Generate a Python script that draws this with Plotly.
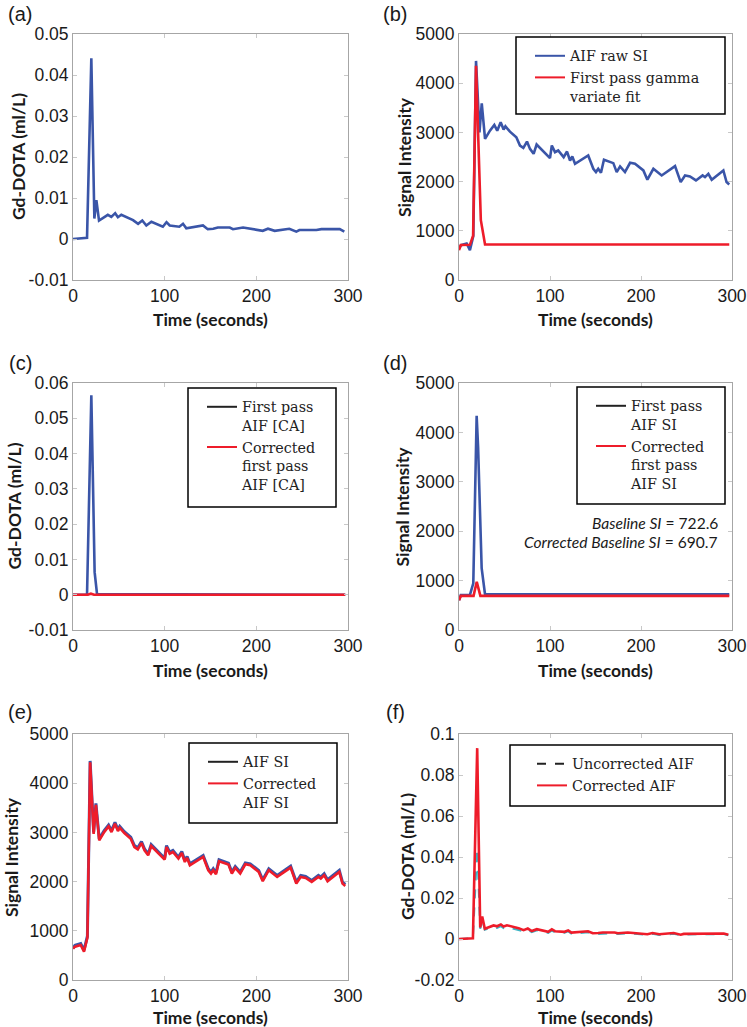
import plotly.graph_objects as go

W, H = 747, 1027

# ---------------- data ----------------
# (b)/(e) raw AIF signal intensity
t_si = [0, 2.2, 8.4, 12, 15.7, 18.7, 22.5, 25, 28.6, 34, 38.8, 42, 45.8, 49, 51, 56, 63, 67, 70.7,
        74.7, 78, 82, 85.3, 100, 102, 105.5, 109, 115, 118.7, 122, 124.5, 127.5, 142, 147.6, 150.5,
        153, 156, 159.3, 169.6, 173.3, 177, 182.4, 188, 193.4, 202.6, 207, 213.6, 222.7, 237.4,
        243.6, 248.4, 253.8, 260.4, 267.7, 270.3, 274, 277.7, 290.5, 294, 297]
si_raw = [640, 708, 742, 607, 890, 4453, 3000, 3590, 2868, 3036, 3151, 3036, 3205, 3057, 3124, 3016,
          2901, 2733, 2686, 2814, 2665, 2564, 2753, 2476, 2733, 2598, 2632, 2497, 2611, 2429, 2510,
          2362, 2530, 2261, 2193, 2261, 2180, 2443, 2375, 2193, 2308, 2193, 2382, 2362, 2227, 2038,
          2261, 2125, 2314, 1990, 2125, 2105, 2024, 2125, 2092, 2159, 2038, 2227, 1990, 1943]
si_corr = [640, 678, 712, 577, 860, 4425, 2970, 3560, 2838, 3006, 3121, 3006, 3175, 3027, 3094, 2986,
           2871, 2703, 2656, 2784, 2635, 2534, 2723, 2446, 2703, 2568, 2602, 2467, 2581, 2399, 2480,
           2332, 2500, 2231, 2163, 2231, 2150, 2413, 2345, 2163, 2278, 2163, 2352, 2332, 2197, 2008,
           2231, 2095, 2284, 1960, 2095, 2075, 1994, 2095, 2062, 2129, 2008, 2197, 1960, 1913]

# (b) first pass gamma variate fit
t_fit = [0, 2, 12, 15.5, 18.7, 24, 28.6, 297]
si_fit = [607, 710, 715, 900, 4352, 1215, 722, 722]

# (a)/(f) Gd-DOTA concentration
t_conc = [0, 15.3, 20, 23.3, 25.5, 28.4, 38, 41.8, 46, 49, 52.7, 65.5, 71, 75.6, 80, 85.5, 98, 102,
          105.5, 116, 120, 123.6, 141.8, 147, 153, 158, 171, 174.5, 185.5, 196, 207, 212.7, 220,
          236, 243.6, 247, 265.5, 271, 291, 296]
conc_raw = [0, 0.0003, 0.0441, 0.0050, 0.0095, 0.0045, 0.0059, 0.0054, 0.0063, 0.0053, 0.0059,
            0.0046, 0.0037, 0.0045, 0.0033, 0.0042, 0.0030, 0.0041, 0.0033, 0.0030, 0.0037, 0.0026,
            0.0033, 0.0024, 0.0025, 0.0028, 0.0028, 0.0024, 0.0028, 0.0024, 0.0020, 0.0025, 0.0020,
            0.0025, 0.0018, 0.0022, 0.0022, 0.0024, 0.0024, 0.0018]
conc_corr = [0, 0.0003, 0.0931, 0.0056, 0.0110, 0.0050, 0.0066, 0.0062, 0.0071, 0.0061, 0.0067,
             0.0053, 0.0043, 0.0051, 0.0039, 0.0048, 0.0035, 0.0047, 0.0038, 0.0035, 0.0042, 0.0031,
             0.0038, 0.0028, 0.0029, 0.0032, 0.0032, 0.0028, 0.0032, 0.0028, 0.0023, 0.0029, 0.0023,
             0.0029, 0.0021, 0.0025, 0.0025, 0.0027, 0.0027, 0.0021]

# (c) first pass AIF concentration
t_fp_conc = [0, 15.3, 20, 23.6, 26.2, 297]
fp_conc = [0, 0, 0.0565, 0.0064, 0.0002, 0]
t_fp_conc_corr = [0, 16, 19.5, 23, 297]
fp_conc_corr = [0, 0, 0.0003, 0, 0]

# (d) first pass AIF SI
t_fp_si = [0, 2, 12, 15.7, 19.4, 21, 24.9, 28.6, 297]
fp_si = [600, 709, 709, 946, 4338, 3700, 1250, 722, 722]
t_fp_si_corr = [0, 2, 16, 19.5, 23.5, 297]
fp_si_corr = [600, 690, 690, 975, 690, 690]

x_ticks = [0, 100, 200, 300]
conc_ticks_a = [-0.01, 0, 0.01, 0.02, 0.03, 0.04, 0.05]
conc_labels_a = ["-0.01", "0", "0.01", "0.02", "0.03", "0.04", "0.05"]
conc_ticks_c = [-0.01, 0, 0.01, 0.02, 0.03, 0.04, 0.05, 0.06]
conc_labels_c = ["-0.01", "0", "0.01", "0.02", "0.03", "0.04", "0.05", "0.06"]
conc_ticks_f = [-0.02, 0, 0.02, 0.04, 0.06, 0.08, 0.1]
conc_labels_f = ["-0.02", "0", "0.02", "0.04", "0.06", "0.08", "0.1"]
si_ticks = [0, 1000, 2000, 3000, 4000, 5000]

# ---------------- style ----------------
BLUE = "#3a55a8"
RED = "#ee1c2a"
CYAN = "#3cb4c4"
LW = 2.6
SANS = "Liberation Sans"
BOLD = "Lato"
SERIF = "DejaVu Serif"

cols = [(73, 348), (459, 732)]
rows = [(34, 280), (383, 630), (734, 980)]


def xd(a, b):
    return [a / W, b / W]


def yd(a, b):
    return [1 - b / H, 1 - a / H]


fig = go.Figure()


def line(x, y, ax, color, width=LW, dash="solid"):
    fig.add_trace(go.Scatter(x=x, y=y, mode="lines", xaxis="x" + ax, yaxis="y" + ax,
                             line=dict(color=color, width=width, dash=dash),
                             showlegend=False, hoverinfo="skip"))


def leg(ax, legend, name, color, dash="solid"):
    fig.add_trace(go.Scatter(x=[None], y=[None], mode="lines", xaxis="x" + ax, yaxis="y" + ax,
                             line=dict(color=color, width=2, dash=dash), name=name,
                             legend=legend, showlegend=True))


# (a)
line(t_conc, conc_raw, "", BLUE)
# (b)
line(t_si, si_raw, "2", BLUE)
line(t_fit, si_fit, "2", RED)
leg("2", "legend", "AIF raw SI", BLUE)
leg("2", "legend", "First pass gamma<br>variate fit", RED)
# (c)
line(t_fp_conc, fp_conc, "3", BLUE)
line(t_fp_conc_corr, fp_conc_corr, "3", RED)
leg("3", "legend2", "First pass<br>AIF [CA]", "#222222")
leg("3", "legend2", "Corrected<br>first pass<br>AIF [CA]", RED)
# (d)
line(t_fp_si, fp_si, "4", BLUE)
line(t_fp_si_corr, fp_si_corr, "4", RED)
leg("4", "legend3", "First pass<br>AIF SI", "#222222")
leg("4", "legend3", "Corrected<br>first pass<br>AIF SI", RED)
# (e)
line(t_si, si_raw, "5", BLUE, width=3)
line(t_si, si_corr, "5", RED)
leg("5", "legend4", "AIF SI", "#222222")
leg("5", "legend4", "Corrected<br>AIF SI", RED)
# (f)
line(t_conc, conc_raw, "6", CYAN, width=2, dash="dash")
line(t_conc, conc_corr, "6", RED)
leg("6", "legend5", "Uncorrected AIF", "#222222", dash="dash")
leg("6", "legend5", "Corrected AIF", RED)

axis_common = dict(showline=True, linecolor="#a6a6a6", linewidth=1, mirror="ticks",
                   ticks="inside", ticklen=4, tickcolor="#c8c8c8", showgrid=False,
                   zeroline=False, tickfont=dict(family=SANS, size=17.5, color="#1a1a1a"),
                   automargin=False)

layout = dict(width=W, height=H, margin=dict(l=0, r=0, t=0, b=0),
              plot_bgcolor="white", paper_bgcolor="white", showlegend=True)

panels = [
    ("", 0, 0, [-0.01, 0.05], conc_ticks_a, conc_labels_a),
    ("2", 1, 0, [0, 5000], si_ticks, [str(v) for v in si_ticks]),
    ("3", 0, 1, [-0.01, 0.06], conc_ticks_c, conc_labels_c),
    ("4", 1, 1, [0, 5000], si_ticks, [str(v) for v in si_ticks]),
    ("5", 0, 2, [0, 5000], si_ticks, [str(v) for v in si_ticks]),
    ("6", 1, 2, [-0.02, 0.1], conc_ticks_f, conc_labels_f),
]
for ax, c, r, yr, tv, tt in panels:
    layout["xaxis" + ax] = dict(axis_common, domain=xd(*cols[c]), range=[0, 300],
                                tickvals=x_ticks, anchor="y" + ax)
    layout["yaxis" + ax] = dict(axis_common, domain=yd(*rows[r]), range=yr,
                                tickvals=tv, ticktext=tt, anchor="x" + ax)

leg_common = dict(xanchor="left", yanchor="top", borderwidth=0,
                  bgcolor="rgba(0,0,0,0)", font=dict(family=SERIF, size=14.3, color="#222222"),
                  itemwidth=30, tracegroupgap=0, valign="top")
# legend boxes: (left, top, right, bottom, text offset)
legend_boxes = {"legend": (516, 37, 725, 114, 14), "legend2": (188, 388, 336, 507, 14),
                "legend3": (577, 387, 725, 504, 14), "legend4": (189, 743, 337, 823, 14),
                "legend5": (510, 745, 725, 806, 22)}
shapes = []
for k, (l, t, r, b, off) in legend_boxes.items():
    layout[k] = dict(leg_common, x=(l + off) / W, y=1 - (t + 3) / H)
    shapes.append(dict(type="rect", xref="paper", yref="paper", x0=l / W, x1=r / W,
                       y0=1 - b / H, y1=1 - t / H, line=dict(color="black", width=1.5),
                       fillcolor="white", layer="above"))
layout["shapes"] = shapes

fig.update_layout(**layout)

ann = []
labels = ["(a)", "(b)", "(c)", "(d)", "(e)", "(f)"]
label_pos = [(20, 14), (395, 14), (20, 363), (395, 363), (20, 712), (395, 712)]
for lab, (px, py) in zip(labels, label_pos):
    ann.append(dict(text=lab, x=px / W, y=1 - py / H, xref="paper", yref="paper",
                    xanchor="center", yanchor="middle", showarrow=False,
                    font=dict(family=SANS, size=20, color="#1a1a1a")))

title_y = [319, 670, 1017]
for r in range(3):
    for c in range(2):
        cx = (cols[c][0] + cols[c][1]) / 2
        ann.append(dict(text="Time (seconds)", x=cx / W, y=1 - title_y[r] / H, xref="paper",
                        yref="paper", xanchor="center", yanchor="middle", showarrow=False,
                        font=dict(family=BOLD, size=17.5, color="#1a1a1a", weight="bold")))

# (text, column, row, x centre in px)
ytitles = [("Gd-DOTA (ml/L)", 0, 0, 18), ("Signal Intensity", 1, 0, 404),
           ("Gd-DOTA (ml/L)", 0, 1, 14), ("Signal Intensity", 1, 1, 402),
           ("Signal Intensity", 0, 2, 11), ("Gd-DOTA (ml/L)", 1, 2, 407)]
for txt, c, r, px in ytitles:
    cy = (rows[r][0] + rows[r][1]) / 2
    ann.append(dict(text=txt, x=px / W, y=1 - cy / H, xref="paper", yref="paper",
                    xanchor="center", yanchor="middle", showarrow=False, textangle=-90,
                    font=dict(family=BOLD, size=17.5, color="#1a1a1a", weight="bold")))

ann.append(dict(text="<i>Baseline SI</i> = 722.6", x=720 / W, y=1 - 523 / H, xref="paper",
                yref="paper", xanchor="right", yanchor="middle", showarrow=False,
                font=dict(family=BOLD, size=15.6, color="#1a1a1a")))
ann.append(dict(text="<i>Corrected Baseline SI</i> = 690.7", x=720 / W, y=1 - 542 / H,
                xref="paper", yref="paper", xanchor="right", yanchor="middle", showarrow=False,
                font=dict(family=BOLD, size=15.6, color="#1a1a1a")))

fig.update_layout(annotations=ann)
fig.write_html("out.html", config={"displayModeBar": False},
               post_script="document.body.style.margin='0px';")
